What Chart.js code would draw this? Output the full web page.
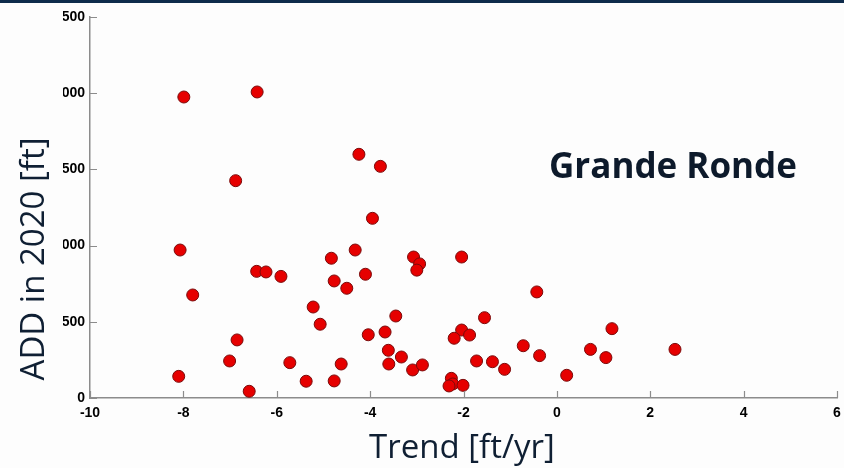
<!DOCTYPE html>
<html>
<head>
<meta charset="utf-8">
<script src="https://cdn.jsdelivr.net/npm/chart.js@4/dist/chart.umd.min.js"></script>
<style>
  html, body { margin: 0; padding: 0; background: #fdfdfd; }
  #wrap { width: 844px; height: 468px; position: relative; }
</style>
</head>
<body>
<div id="wrap"><canvas id="myChart" width="844" height="468"></canvas></div>
<script>
// trend of each well [ft/yr] against ADD in 2020 [ft]
var trend = [
  -7.99, -6.42, -6.88, -4.24, -3.78, -3.95, -8.07, -7.80, -6.43, -6.23,
  -5.91, -4.83, -4.32, -4.77, -4.10, -4.50, -3.07, -2.94, -3.00, -2.04,
  -5.22, -5.07, -3.45, -4.04, -3.68, -6.85, -7.01, -8.10, -6.59, -5.72,
  -5.37, -4.77, -4.62, -3.61, -3.33, -3.60, -3.09, -2.88, -0.43, -1.55,
  -2.04, -2.20, -1.87, -1.72, -1.38, -1.12, -0.72, -0.37, 0.21, 0.72,
  1.05, 1.18, 2.53, -2.26, -2.23, -2.31, -2.01
];
var add2020 = [
  1975, 2008, 1426, 1599, 1520, 1179, 971, 676, 831, 827,
  798, 917, 971, 768, 812, 720, 925, 880, 839, 925,
  597, 484, 538, 415, 433, 381, 243, 142, 44, 232,
  110, 112, 223, 313, 269, 223, 184, 217, 696, 527,
  446, 392, 413, 243, 238, 188, 343, 278, 149, 319,
  265, 455, 319, 129, 92, 79, 83
];
var xTicks = [-10, -8, -6, -4, -2, 0, 2, 4, 6];
var yTicks = [0, 500, 1000, 1500, 2000, 2500];
var basin = "Grande Ronde";
var xTitle = "Trend [ft/yr]";
var yTitle = "ADD in 2020 [ft]";

var points = [];
for (var i = 0; i < trend.length; i++) {
  points.push({ x: trend[i], y: add2020[i] });
}

var axisGray = '#8c8c8c';
var inkBlue = '#0f1f33';
var tickFont = { family: '"Liberation Sans", Arial', size: 14, weight: 'bold' };

// inward tick marks, axis titles and the basin name
var decorations = {
  id: 'decorations',
  afterDraw: function (chart) {
    var ctx = chart.ctx;
    var xs = chart.scales.x, ys = chart.scales.y;
    var area = chart.chartArea;
    ctx.save();

    ctx.strokeStyle = axisGray;
    ctx.lineWidth = 1.2;
    ctx.beginPath();
    xTicks.forEach(function (v) {
      var px = Math.round(xs.getPixelForValue(v)) + 0.5;
      ctx.moveTo(px, area.bottom);
      ctx.lineTo(px, area.bottom - 7);
    });
    yTicks.forEach(function (v) {
      var py = Math.round(ys.getPixelForValue(v)) + 0.5;
      ctx.moveTo(area.left, py);
      ctx.lineTo(area.left + 7, py);
    });
    ctx.stroke();

    // the y title box sits over the start of the tick labels
    ctx.fillStyle = '#fdfdfd';
    ctx.fillRect(0, 4, 63, 386);

    ctx.fillStyle = inkBlue;
    ctx.font = '33px "Open Sans"';
    ctx.textBaseline = 'alphabetic';
    ctx.textAlign = 'center';
    ctx.fillText(xTitle, 462, 458);

    ctx.save();
    ctx.translate(44, 259);
    ctx.rotate(-Math.PI / 2);
    ctx.fillText(yTitle, 0, 0);
    ctx.restore();

    ctx.fillStyle = '#0d1a2b';
    ctx.font = 'bold 35px "Open Sans"';
    ctx.textAlign = 'left';
    ctx.fillText(basin, 549, 178);

    // header strip
    ctx.fillStyle = '#0e2b4b';
    ctx.fillRect(0, 0, chart.width, 3);
    ctx.restore();
  }
};

var ctx = document.getElementById('myChart').getContext('2d');
var chart = new Chart(ctx, {
  type: 'scatter',
  data: {
    datasets: [{
      data: points,
      pointRadius: 6,
      pointBackgroundColor: '#e60000',
      pointBorderColor: '#7a0a0a',
      pointBorderWidth: 1
    }]
  },
  options: {
    responsive: false,
    animation: false,
    events: [],
    layout: { padding: { left: 0, right: 0, top: 17, bottom: 0 } },
    plugins: {
      legend: { display: false },
      tooltip: { enabled: false }
    },
    scales: {
      x: {
        type: 'linear',
        min: -10,
        max: 6,
        afterBuildTicks: function (scale) {
          scale.ticks = xTicks.map(function (v) { return { value: v }; });
        },
        afterFit: function (scale) {
          scale.height = 70;
          scale.paddingRight = 6;
        },
        grid: { display: false, drawTicks: false },
        border: { display: true, color: axisGray, width: 1.5 },
        ticks: { padding: 7, color: '#000', maxRotation: 0, font: tickFont }
      },
      y: {
        type: 'linear',
        min: 0,
        max: 2500,
        afterBuildTicks: function (scale) {
          scale.ticks = yTicks.map(function (v) { return { value: v }; });
        },
        afterFit: function (scale) { scale.width = 90; },
        grid: { display: false, drawTicks: false },
        border: { display: true, color: axisGray, width: 1.5 },
        ticks: { padding: 5, color: '#000', font: tickFont }
      }
    }
  },
  plugins: [decorations]
});
</script>
</body>
</html>
